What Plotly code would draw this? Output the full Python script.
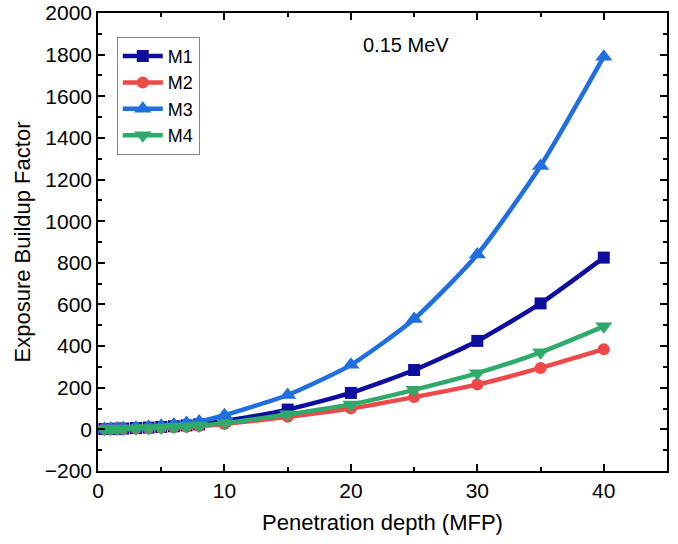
import plotly.graph_objects as go

depth = [0.5, 1, 1.5, 2, 3, 4, 5, 6, 7, 8, 10, 15, 20, 25, 30, 35, 40]
m1 = [1.5, 2.2, 3.0, 3.9, 6.0, 8.5, 11.5, 15, 19, 24, 40, 95, 175, 285, 425, 605, 825]
m2 = [1.4, 1.9, 2.5, 3.1, 4.6, 6.3, 8.3, 10.5, 13, 16, 26, 60, 100, 155, 215, 295, 385]
m3 = [1.7, 2.6, 3.7, 5.0, 8.3, 12.5, 17.5, 23.5, 30, 38, 68, 165, 310, 530, 840, 1265, 1790]
m4 = [1.4, 2.0, 2.6, 3.3, 5.0, 7.0, 9.3, 12, 15, 18.5, 30, 72, 120, 190, 270, 370, 495]

names = ["M1", "M2", "M3", "M4"]
series = [m1, m2, m3, m4]
colors = ["#0d0da0", "#f04848", "#1f6fe0", "#2eab6a"]
symbols = ["square", "circle", "triangle-up", "triangle-down"]
sizes = [12, 12, 15, 15]

fig = go.Figure()
for n, s, c, sym, sz in zip(names, series, colors, symbols, sizes):
    fig.add_trace(go.Scatter(
        x=depth, y=s, name=n, mode="lines+markers",
        line=dict(color=c, width=4.5, shape="spline", smoothing=0.6),
        marker=dict(symbol=sym, size=sz, color=c),
    ))

fig.add_annotation(x=0.541, y=0.930, xref="paper", yref="paper",
                   text="0.15 MeV", showarrow=False,
                   font=dict(size=20, color="black", family="Liberation Sans"),
                   xanchor="center", yanchor="middle")

axis_common = dict(
    showline=True, linecolor="black", linewidth=1.5, mirror="ticks",
    ticks="inside", ticklen=7, tickwidth=1.5, tickcolor="black",
    showgrid=False, zeroline=False, automargin=False,
    tickfont=dict(size=21, color="black", family="Liberation Sans"),
)

fig.update_layout(
    width=678, height=544,
    margin=dict(l=98, r=11, t=13, b=73),
    plot_bgcolor="white", paper_bgcolor="white",
    font=dict(family="Liberation Sans", color="black"),
    xaxis=dict(range=[0, 45], dtick=10,
               minor=dict(dtick=5, ticks="inside", ticklen=4, tickcolor="black", tickwidth=1.5),
               title=dict(text="Penetration depth (MFP)", font=dict(size=22), standoff=14),
               **axis_common),
    yaxis=dict(range=[-200, 2000], dtick=200,
               minor=dict(dtick=100, ticks="inside", ticklen=4, tickcolor="black", tickwidth=1.5),
               title=dict(text="Exposure Buildup Factor", font=dict(size=22), standoff=8),
               **axis_common),
    legend=dict(x=0.033, y=0.948, xanchor="left", yanchor="top",
                bordercolor="#888888", borderwidth=1, bgcolor="white",
                font=dict(size=18, color="black"), tracegroupgap=0,
                itemwidth=40),
    showlegend=True,
)

fig.write_html("out.html")
